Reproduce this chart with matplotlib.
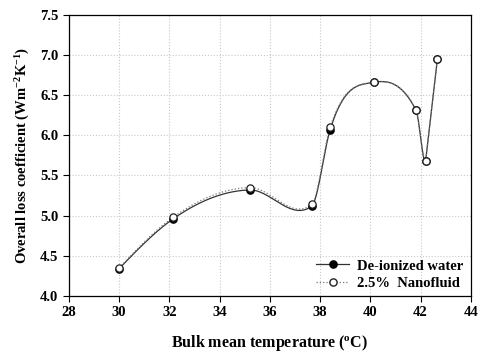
import numpy as np
import matplotlib
matplotlib.use("Agg")
import matplotlib.pyplot as plt

plt.rcParams['font.family'] = 'Liberation Serif'
plt.rcParams['font.weight'] = 'bold'
plt.rcParams['mathtext.fontset'] = 'custom'
plt.rcParams['mathtext.rm'] = 'Liberation Serif:bold'
plt.rcParams['mathtext.bf'] = 'Liberation Serif:bold'
plt.rcParams['mathtext.it'] = 'Liberation Serif:bold'

temperature = [30.0, 32.15, 35.2, 37.67, 38.4, 40.15, 41.82, 42.2, 42.67]
di_water = [4.34, 4.96, 5.32, 5.12, 6.07, 6.66, 6.31, 5.68, 6.95]
nanofluid = [4.35, 4.98, 5.35, 5.14, 6.10, 6.66, 6.31, 5.68, 6.95]
xticks = [28, 30, 32, 34, 36, 38, 40, 42, 44]
yticks = [4.0, 4.5, 5.0, 5.5, 6.0, 6.5, 7.0, 7.5]


def smooth_curve(x, y, n=60):
    """Hermite spline with limited 3-point tangents; last segment straight."""
    x = np.asarray(x, float); y = np.asarray(y, float)
    h = np.diff(x)
    d = np.diff(y) / h
    m = np.zeros(len(x))
    for i in range(1, len(x) - 1):
        mi = (d[i - 1] * h[i] + d[i] * h[i - 1]) / (h[i - 1] + h[i])
        cap = 3 * min(abs(d[i - 1]), abs(d[i]))
        m[i] = np.clip(mi, -cap, cap)
    m[0] = (3 * d[0] - m[1]) / 2
    m[-1] = d[-1]
    xs_all, ys_all = [], []
    for i in range(len(x) - 1):
        t = np.linspace(0, 1, n)
        if i == len(x) - 2:
            xs = x[i] + t * h[i]
            ys = y[i] + t * (y[i + 1] - y[i])
        else:
            h00 = 2 * t ** 3 - 3 * t ** 2 + 1
            h10 = t ** 3 - 2 * t ** 2 + t
            h01 = -2 * t ** 3 + 3 * t ** 2
            h11 = t ** 3 - t ** 2
            xs = x[i] + t * h[i]
            ys = h00 * y[i] + h10 * h[i] * m[i] + h01 * y[i + 1] + h11 * h[i] * m[i + 1]
        xs_all.append(xs); ys_all.append(ys)
    return np.concatenate(xs_all), np.concatenate(ys_all)


fig = plt.figure(figsize=(4.78, 3.53), dpi=100)
ax = fig.add_axes([0.144, 0.1615, 0.841, 0.7965])

xs, ys = smooth_curve(temperature, di_water)
ax.plot(xs, ys, '-', color='#333333', lw=0.9, zorder=2)
xs2, ys2 = smooth_curve(temperature, nanofluid)
ax.plot(xs2, ys2, ':', color='#777777', lw=0.9, zorder=2)

ax.plot(temperature, di_water, 'o', color='black', ms=5.2, zorder=3)
ax.plot(temperature, nanofluid, 'o', mfc='white', mec='#222222', mew=0.9, ms=5.2, zorder=4)

h1, = ax.plot([], [], '-', color='#333333', lw=0.9, marker='o', mfc='black', mec='black', ms=5.2)
h2, = ax.plot([], [], ':', color='#777777', lw=0.9, marker='o', mfc='white', mec='#222222', ms=5.2)
ax.legend([h1, h2], ['De-ionized water', '2.5%  Nanofluid'], loc='lower right',
          frameon=False, fontsize=10.5, handlelength=2.3, handletextpad=0.5,
          labelspacing=0.3, borderaxespad=0.0, bbox_to_anchor=(0.995, 0.0))

ax.set_xlim(28, 44)
ax.set_ylim(4.0, 7.5)
ax.set_xticks(xticks)
ax.set_yticks(yticks)
ax.set_xticklabels([str(v) for v in xticks])
ax.set_yticklabels([f"{v:.1f}" for v in yticks])
ax.tick_params(direction='out', length=4, width=0.8, labelsize=10.5)
ax.grid(True, linestyle=':', color='#c8c8c8', lw=0.8)
ax.set_axisbelow(True)
for s in ax.spines.values():
    s.set_linewidth(0.9)

ax.set_xlabel(r'Bulk mean temperature ($^{\mathrm{o}}$C)', fontsize=11.5, fontweight='bold', labelpad=9.5)
ax.set_ylabel(r'Overall loss coefficient (Wm$^{\mathrm{-2}}$K$^{\mathrm{-1}}$)', fontsize=10.5, fontweight='bold', labelpad=6)

fig.savefig('out.png', dpi=100)
